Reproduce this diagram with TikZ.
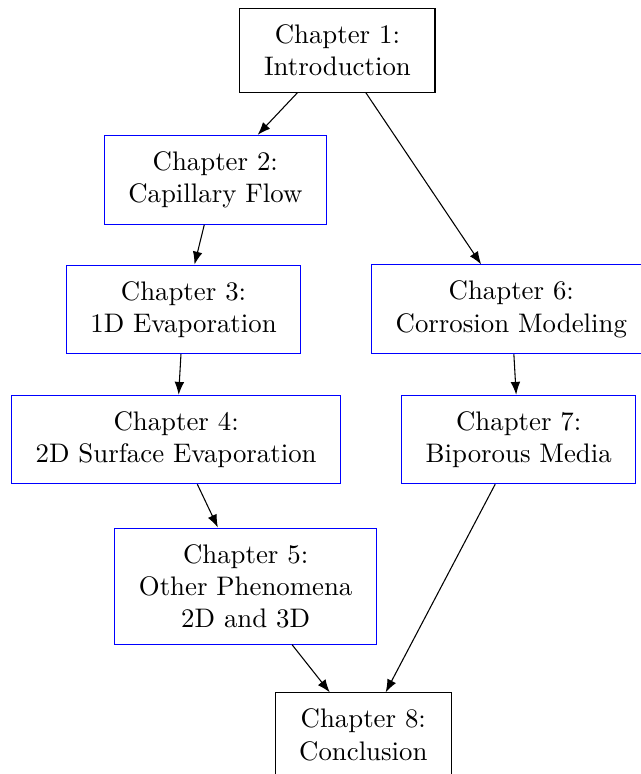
\documentclass[tikz,border=0pt]{standalone}
\usetikzlibrary{arrows.meta}

\begin{document}
\begin{tikzpicture}[x=0.97cm,y=0.97cm,>=Latex,every node/.style={align=center,draw,inner xsep=9pt,inner ysep=6pt},
  chap/.style={draw=blue}]
\useasboundingbox (0,0) rectangle (8.65,-10.46);
\node (c1) at (4.56,-0.68) {Chapter 1:\\Introduction};
\node[chap] (c2) at (2.91,-2.43) {Chapter 2:\\Capillary Flow};
\node[chap] (c3) at (2.48,-4.18) {Chapter 3:\\1D Evaporation};
\node[chap] (c6) at (6.91,-4.18) {Chapter 6:\\Corrosion Modeling};
\node[chap] (c4) at (2.38,-5.94) {Chapter 4:\\2D Surface Evaporation};
\node[chap] (c7) at (7.01,-5.94) {Chapter 7:\\Biporous Media};
\node[chap] (c5) at (3.32,-7.92) {Chapter 5:\\Other Phenomena\\2D and 3D};
\node (c8) at (4.91,-9.93) {Chapter 8:\\Conclusion};
\draw[->] (c1)--(c2);
\draw[->] (c1)--(c6);
\draw[->] (c2)--(c3);
\draw[->] (c3)--(c4);
\draw[->] (c4)--(c5);
\draw[->] (c6)--(c7);
\draw[->] (c5)--(c8);
\draw[->] (c7)--(c8);
\end{tikzpicture}
\end{document}
